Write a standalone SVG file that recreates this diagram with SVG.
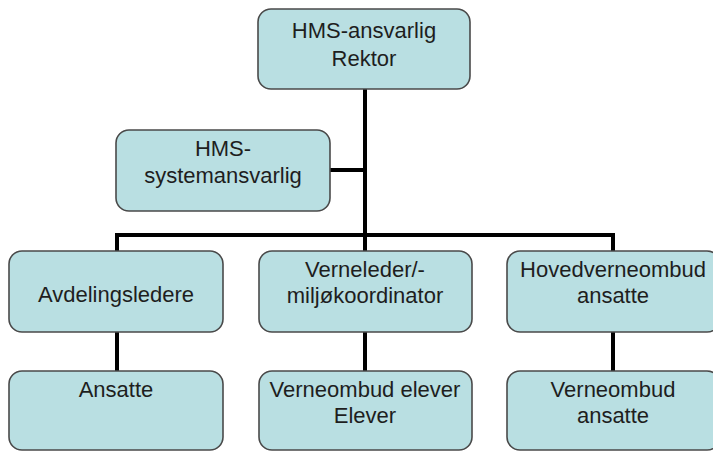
<svg xmlns="http://www.w3.org/2000/svg" width="713" height="451" viewBox="0 0 713 451">
<style>
.box{fill:#b9dfe2;stroke:#4a4a4a;stroke-width:1.6}
.t{font-family:"Liberation Sans",Arial,sans-serif;font-size:22px;fill:#1e1e1e;text-anchor:middle}
.c{stroke:#000;stroke-width:4;fill:none}
</style>
<rect width="713" height="451" fill="#fff"/>
<g id="connectors">
<path class="c" d="M365 89V235M330 170H365M117 235H613M117 233V251M365 235V251M613 233V251M117 332V371M365 332V371M613 332V371"/>
</g>
<g id="n-rektor"><rect class="box" x="258" y="9" width="212" height="80" rx="13"/><text class="t" x="364" y="38">HMS-ansvarlig</text><text class="t" x="364" y="66">Rektor</text></g>
<g id="n-system"><rect class="box" x="116" y="130" width="214" height="81" rx="13"/><text class="t" x="223" y="156">HMS-</text><text class="t" x="223" y="183">systemansvarlig</text></g>
<g id="n-avd"><rect class="box" x="9" y="251" width="214" height="81" rx="13"/><text class="t" x="116" y="302">Avdelingsledere</text></g>
<g id="n-verneleder"><rect class="box" x="259" y="251" width="213" height="81" rx="13"/><text class="t" x="365" y="277">Verneleder/-</text><text class="t" x="365" y="303">miljøkoordinator</text></g>
<g id="n-hoved"><rect class="box" x="507" y="251" width="213" height="81" rx="13"/><text class="t" x="613" y="277">Hovedverneombud</text><text class="t" x="613" y="303">ansatte</text></g>
<g id="n-ansatte"><rect class="box" x="9" y="371" width="214" height="79" rx="13"/><text class="t" x="116" y="397">Ansatte</text></g>
<g id="n-elever"><rect class="box" x="259" y="371" width="213" height="79" rx="13"/><text class="t" x="365" y="397">Verneombud elever</text><text class="t" x="365" y="423">Elever</text></g>
<g id="n-vansatte"><rect class="box" x="507" y="371" width="213" height="79" rx="13"/><text class="t" x="613" y="397">Verneombud</text><text class="t" x="613" y="423">ansatte</text></g>
</svg>
